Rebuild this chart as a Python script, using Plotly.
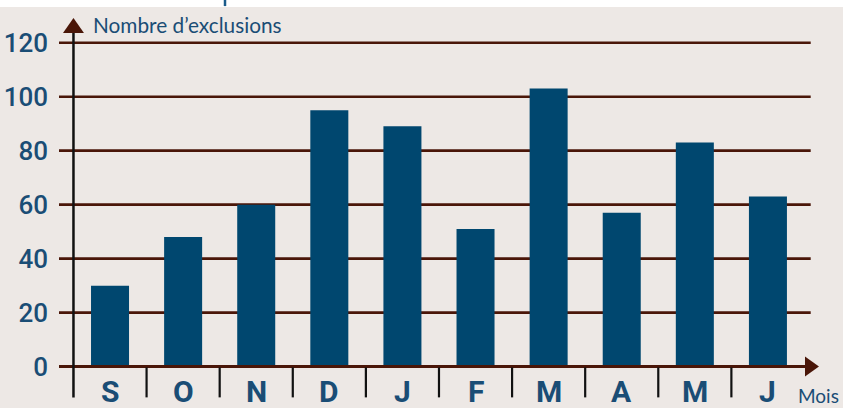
import plotly.graph_objects as go

months = ["S", "O", "N", "D", "J", "F", "M", "A", "M", "J"]
exclusions = [30, 48, 60, 95, 89, 51, 103, 57, 83, 63]
y_ticks = [0, 20, 40, 60, 80, 100, 120]
y_title = "Nombre d’exclusions"
x_title = "Mois"

BG = "#ede8e5"
BAR = "#00476f"
GRID = "#4a1608"
TXT = "#1a4d75"
NARROW = "Roboto, sans-serif"

x_idx = list(range(len(months)))
xmin, xmax = -0.698, 9.767
ymin, ymax = -12, 131
px_x = 765 / (xmax - xmin)
px_y = 386 / (ymax - ymin)

fig = go.Figure()
fig.add_trace(go.Bar(x=x_idx, y=exclusions, width=0.52,
                     marker=dict(color=BAR, line=dict(width=0)),
                     hoverinfo="skip"))

shapes = []
# gridlines (behind bars)
for v in y_ticks:
    if v == 0:
        continue
    shapes.append(dict(type="line", xref="x", yref="y", x0=xmin, x1=9.585, y0=v, y1=v,
                       line=dict(color=GRID, width=2.6), layer="below"))
# zero line with arrow
shapes.append(dict(type="line", xref="x", yref="y", x0=xmin, x1=9.52, y0=0, y1=0,
                   line=dict(color=GRID, width=3), layer="above"))
hx = 10 / px_y
bx = -0.5 + (805 - 73.5) / px_x
tx = -0.5 + (819 - 73.5) / px_x
shapes.append(dict(type="path", xref="x", yref="y",
                   path=f"M {bx},{hx} L {tx},0 L {bx},{-hx} Z",
                   fillcolor=GRID, line=dict(width=0), layer="above"))
# y axis line with arrow
shapes.append(dict(type="line", xref="x", yref="y", x0=-0.5, x1=-0.5, y0=-11.4, y1=124,
                   line=dict(color="#111111", width=2.5), layer="above"))
hw = 10.5 / px_x
tip = (366.5 - 18) / px_y
base = (366.5 - 33) / px_y
shapes.append(dict(type="path", xref="x", yref="y",
                   path=f"M {-0.5 - hw},{base} L -0.5,{tip} L {-0.5 + hw},{base} Z",
                   fillcolor=GRID, line=dict(width=0), layer="above"))
# category separators
for i in x_idx[:-1]:
    shapes.append(dict(type="line", xref="x", yref="y", x0=i + 0.5, x1=i + 0.5, y0=-0.3, y1=-11.4,
                       line=dict(color="#111111", width=2.2), layer="above"))
# white top band and small blue mark
shapes.append(dict(type="rect", xref="paper", yref="paper", x0=-0.1, x1=1.1,
                   y0=(398.9 - 7) / 386, y1=1.1, fillcolor="white", line=dict(width=0), layer="above"))
shapes.append(dict(type="line", xref="paper", yref="paper", x0=(225 - 59) / 765, x1=(225 - 59) / 765,
                   y0=(398.9 - 6) / 386, y1=1.1, line=dict(color="#1a5b8a", width=2.5), layer="above"))

annotations = []
for i, m in zip(x_idx, months):
    annotations.append(dict(x=i, y=0, xref="x", yref="y", text=m, showarrow=False,
                            yanchor="top", yshift=-5,
                            font=dict(family=NARROW, size=30, color=TXT, weight=700)))
annotations.append(dict(x=-0.5 + (91 - 73.5) / px_x, y=(366.5 - 24) / px_y, xref="x", yref="y",
                        text=y_title, showarrow=False, xanchor="left", yanchor="middle",
                        font=dict(family="Lato, sans-serif", size=20.8, color=TXT)))
annotations.append(dict(x=-0.5 + (796 - 73.5) / px_x, y=(366.5 - 395) / px_y, xref="x", yref="y",
                        text=x_title, showarrow=False, xanchor="left", yanchor="middle",
                        font=dict(family="Lato, sans-serif", size=19, color=TXT)))

fig.update_layout(
    width=843, height=408, autosize=False,
    margin=dict(l=59, r=19, t=13, b=9, pad=0, autoexpand=False),
    paper_bgcolor=BG, plot_bgcolor=BG,
    showlegend=False,
    shapes=shapes, annotations=annotations,
    xaxis=dict(range=[xmin, xmax], showgrid=False, zeroline=False, showline=False,
               showticklabels=False, ticks="", fixedrange=True, automargin=False),
    yaxis=dict(range=[ymin, ymax], tickvals=y_ticks, ticktext=[str(v) for v in y_ticks],
               showgrid=False, zeroline=False, showline=False, ticks="",
               ticklabelstandoff=10, automargin=False,
               tickfont=dict(family=NARROW, size=26, color=TXT, weight=500), fixedrange=True),
)

fig.write_html("out.html", config={"displayModeBar": False},
               post_script="document.body.style.margin='0';document.body.style.overflow='hidden';")
